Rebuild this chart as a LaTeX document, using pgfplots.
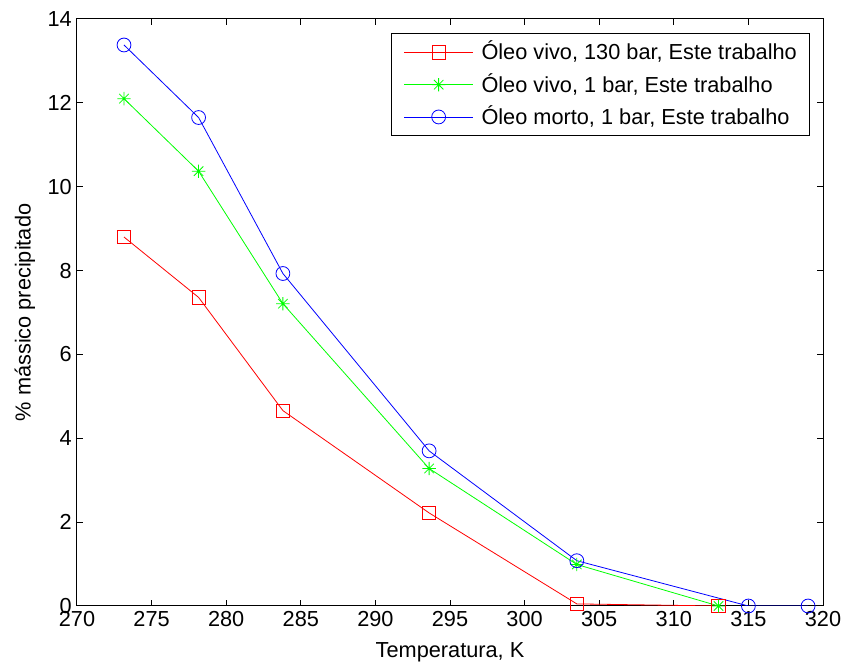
\documentclass[border=0pt]{standalone}
\usepackage{fontspec}
\setmainfont{Liberation Sans}
\usepackage{pgfplots}
\pgfplotsset{compat=1.18}
\pgfdeclareplotmark{mstar}{%
  \pgfpathmoveto{\pgfpoint{-\pgfplotmarksize}{0pt}}\pgfpathlineto{\pgfpoint{\pgfplotmarksize}{0pt}}%
  \pgfpathmoveto{\pgfpoint{0pt}{-\pgfplotmarksize}}\pgfpathlineto{\pgfpoint{0pt}{\pgfplotmarksize}}%
  \pgfpathmoveto{\pgfpoint{-0.7071\pgfplotmarksize}{-0.7071\pgfplotmarksize}}\pgfpathlineto{\pgfpoint{0.7071\pgfplotmarksize}{0.7071\pgfplotmarksize}}%
  \pgfpathmoveto{\pgfpoint{-0.7071\pgfplotmarksize}{0.7071\pgfplotmarksize}}\pgfpathlineto{\pgfpoint{0.7071\pgfplotmarksize}{-0.7071\pgfplotmarksize}}%
  \pgfusepathqstroke}
\newcommand{\chartfont}{\fontsize{16.3pt}{19pt}\selectfont}
\begin{document}
\begin{tikzpicture}
\begin{axis}[
  name=ax,
  scale only axis,
  width=559.5pt, height=440.25pt,
  xmin=270, xmax=320, ymin=0, ymax=14,
  xtick={270,275,...,320},
  ytick={0,2,...,14},
  tick align=inside,
  major tick length=4.5pt,
  axis line style={line width=0.75pt},
  every tick/.style={black, line width=0.75pt},
  /pgf/number format/assume math mode=true,
  tick label style={font=\chartfont},
  xticklabel style={anchor=north, inner sep=0pt, yshift=-3.5pt},
  yticklabel style={anchor=east, inner sep=0pt, xshift=-3.75pt},
  xlabel={Temperatura, K},
  ylabel={\% mássico precipitado},
  every axis x label/.style={at={(axis description cs:0.5,-0.0869)}, anchor=base, font=\chartfont},
  every axis y label/.style={at={(axis description cs:-0.062,0.5)}, anchor=base, rotate=90, font=\chartfont},
  every axis plot/.append style={line width=0.6pt},
  legend cell align=left,
  legend style={
    at={(1,1)}, anchor=north east, xshift=-9.75pt, yshift=-10.7pt,
    font=\chartfont,
    draw=black, line width=0.75pt,
    inner xsep=9.5pt, inner ysep=6.5pt,
    row sep=9.2pt,
    nodes={inner sep=0pt, text height=13pt, text depth=2pt},
    /tikz/every odd column/.append style={column sep=6pt},
  },
  legend image code/.code={%
    \draw[mark repeat=2, mark phase=2, #1] plot coordinates {(0pt,0pt) (25.9pt,0pt) (51.75pt,0pt)};},
]
\addplot[red, mark=square, mark size=5pt, mark options={solid}] coordinates {
  (273.15,8.80) (278.15,7.36) (283.8,4.66) (293.6,2.22) (303.5,0.05) (313,0)
};
\addlegendentry{Óleo vivo, 130 bar, Este trabalho}
\addplot[green, mark=mstar, mark size=5pt, mark options={solid}] coordinates {
  (273.15,12.10) (278.15,10.37) (283.8,7.21) (293.6,3.28) (303.5,0.99) (313,0)
};
\addlegendentry{Óleo vivo, 1 bar, Este trabalho}
\addplot[blue, mark=o, mark size=5.2pt, mark options={solid}] coordinates {
  (273.15,13.38) (278.15,11.65) (283.8,7.93) (293.6,3.70) (303.5,1.08) (315,0) (319,0)
};
\addlegendentry{Óleo morto, 1 bar, Este trabalho}
\end{axis}
\pgfresetboundingbox
\path (ax.south west) ++(-57.75pt,-45pt) coordinate (bbA);
\path (ax.north east) ++(16.5pt,14.25pt) coordinate (bbB);
\useasboundingbox (bbA) rectangle (bbB);
\end{tikzpicture}
\end{document}
